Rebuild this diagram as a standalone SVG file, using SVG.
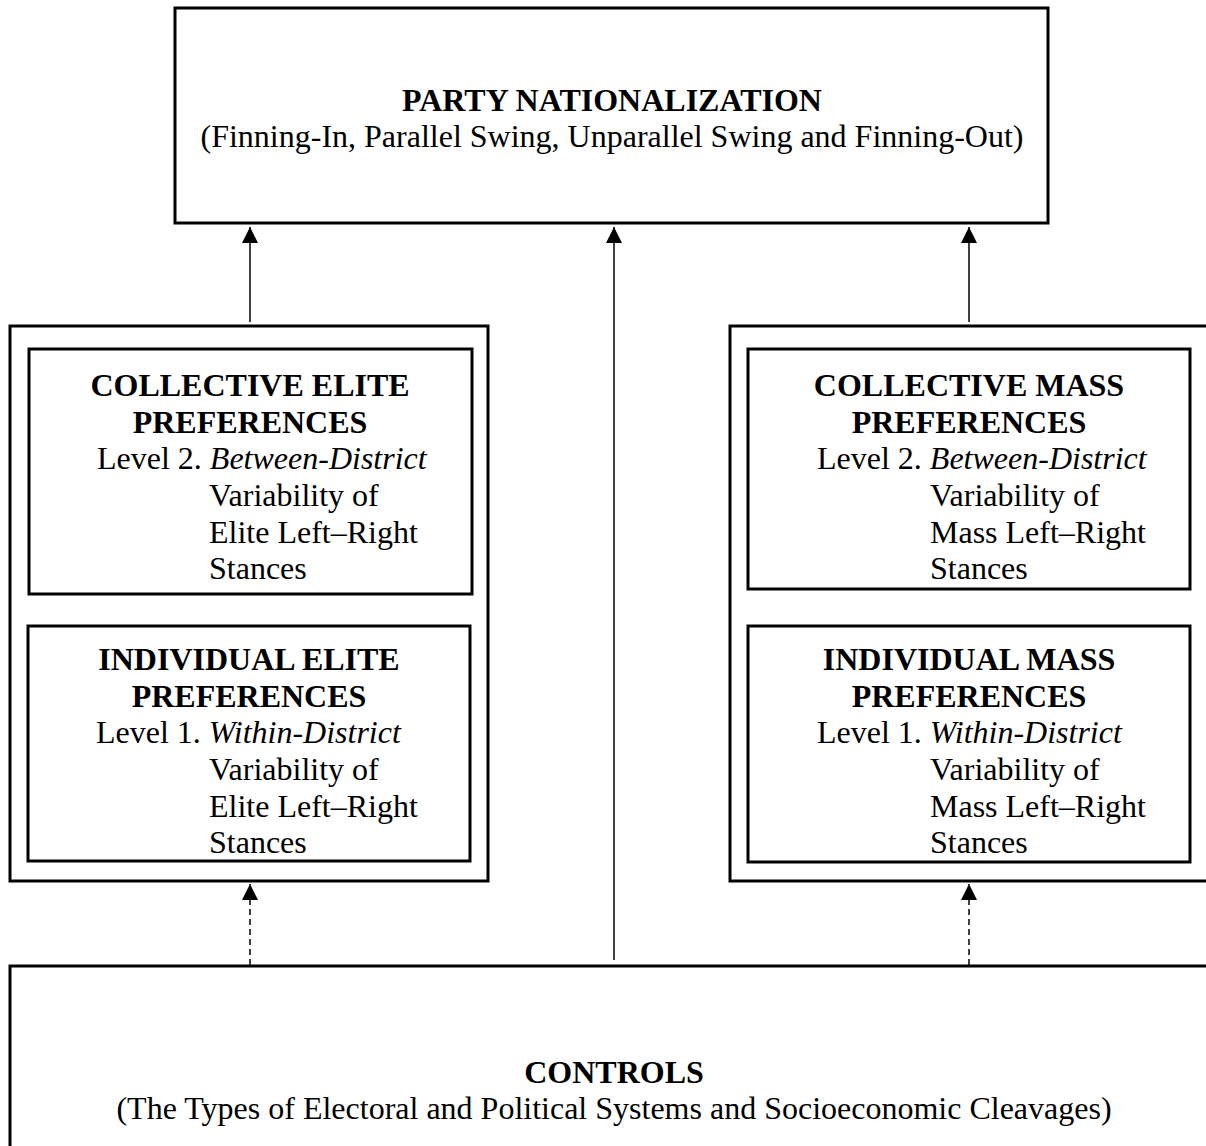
<svg xmlns="http://www.w3.org/2000/svg" width="1206" height="1146" viewBox="0 0 1206 1146">
<style>
.box{fill:#fff;stroke:#000;stroke-width:3}
.t{font-family:"Liberation Serif","Times New Roman",serif;font-size:32px;fill:#000}
.b{font-weight:bold}
.c{text-anchor:middle}
.ln{stroke:#000;stroke-width:1.5;fill:none}
.dash{stroke-dasharray:6 4}
</style>
<defs>
<marker id="ah" viewBox="0 0 16 16" refX="16" refY="8" markerWidth="16" markerHeight="16" markerUnits="userSpaceOnUse" orient="auto">
<path d="M0,0 L16,8 L0,16 Z" fill="#000"/>
</marker>
</defs>
<rect width="1206" height="1146" fill="#fff"/>
<g id="party-nationalization">
<rect class="box" x="175" y="8" width="873" height="215"/>
<text class="t b c" x="612" y="111">PARTY NATIONALIZATION</text>
<text class="t c" x="612" y="147">(Finning-In, Parallel Swing, Unparallel Swing and Finning-Out)</text>
</g>
<g id="elite-group">
<rect class="box" x="10" y="326" width="478" height="555"/>
</g>
<g id="collective-elite">
<rect class="box" x="29" y="349" width="443" height="245"/>
<text class="t b c" x="250" y="396">COLLECTIVE ELITE</text>
<text class="t b c" x="250" y="433">PREFERENCES</text>
<text class="t" x="97" y="469">Level 2. <tspan font-style="italic">Between-District</tspan></text>
<text class="t" x="209" y="506">Variability of</text>
<text class="t" x="209" y="543">Elite Left–Right</text>
<text class="t" x="209" y="579">Stances</text>
</g>
<g id="individual-elite">
<rect class="box" x="28" y="626" width="442" height="235"/>
<text class="t b c" x="249" y="670">INDIVIDUAL ELITE</text>
<text class="t b c" x="249" y="707">PREFERENCES</text>
<text class="t" x="96" y="743">Level 1. <tspan font-style="italic">Within-District</tspan></text>
<text class="t" x="209" y="780">Variability of</text>
<text class="t" x="209" y="817">Elite Left–Right</text>
<text class="t" x="209" y="853">Stances</text>
</g>
<g id="mass-group">
<rect class="box" x="730" y="326" width="500" height="555"/>
</g>
<g id="collective-mass">
<rect class="box" x="748" y="349" width="442" height="240"/>
<text class="t b c" x="969" y="396">COLLECTIVE MASS</text>
<text class="t b c" x="969" y="433">PREFERENCES</text>
<text class="t" x="817" y="469">Level 2. <tspan font-style="italic">Between-District</tspan></text>
<text class="t" x="930" y="506">Variability of</text>
<text class="t" x="930" y="543">Mass Left–Right</text>
<text class="t" x="930" y="579">Stances</text>
</g>
<g id="individual-mass">
<rect class="box" x="748" y="626" width="442" height="236"/>
<text class="t b c" x="969" y="670">INDIVIDUAL MASS</text>
<text class="t b c" x="969" y="707">PREFERENCES</text>
<text class="t" x="817" y="743">Level 1. <tspan font-style="italic">Within-District</tspan></text>
<text class="t" x="930" y="780">Variability of</text>
<text class="t" x="930" y="817">Mass Left–Right</text>
<text class="t" x="930" y="853">Stances</text>
</g>
<g id="controls">
<rect class="box" x="10" y="966" width="1220" height="200"/>
<text class="t b c" x="614" y="1083">CONTROLS</text>
<text class="t c" x="614" y="1119">(The Types of Electoral and Political Systems and Socioeconomic Cleavages)</text>
</g>
<g id="connectors">
<line class="ln" x1="250" y1="322" x2="250" y2="227" marker-end="url(#ah)"/>
<line class="ln" x1="614" y1="960" x2="614" y2="227" marker-end="url(#ah)"/>
<line class="ln" x1="969" y1="322" x2="969" y2="227" marker-end="url(#ah)"/>
<line class="ln dash" x1="250" y1="965" x2="250" y2="884" marker-end="url(#ah)"/>
<line class="ln dash" x1="969" y1="965" x2="969" y2="884" marker-end="url(#ah)"/>
</g>
</svg>
